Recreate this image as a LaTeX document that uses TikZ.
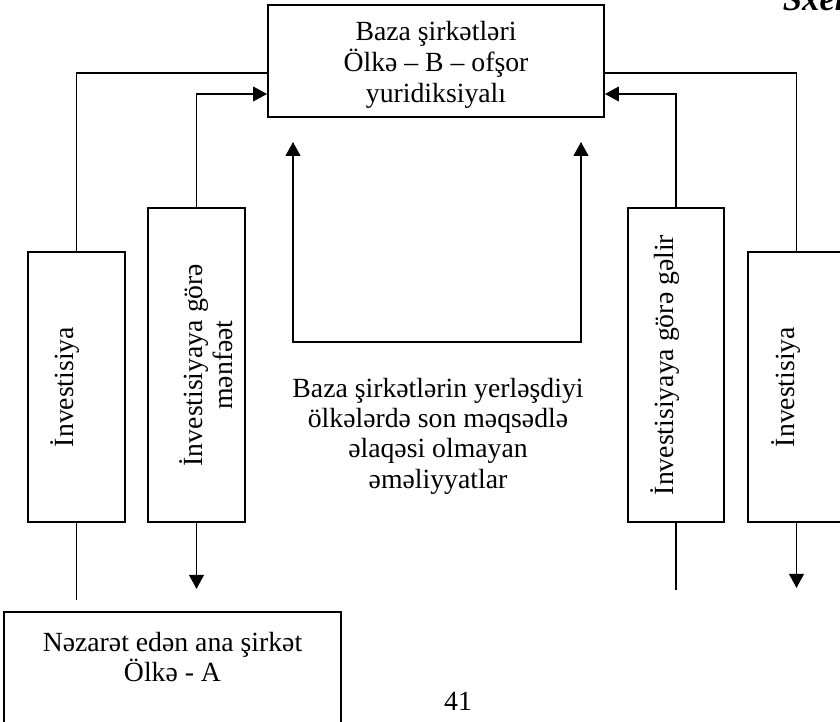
\documentclass[tikz,border=0pt]{standalone}
\usepackage{fontspec}
\setmainfont{Liberation Serif}
\usetikzlibrary{arrows.meta}

\tikzset{every picture/.style={line width=1.4pt}}
\tikzset{
	tri/.tip={Triangle[length=10.5pt,width=11pt]},
	box/.style={draw, rectangle, inner sep=0pt},
	txt/.style={inner sep=0.75pt, align=center, font=\fontsize{20.8}{22.8}\selectfont},
}

\begin{document}
\begin{tikzpicture}[x=0.75pt,y=0.75pt,yscale=-1,xscale=1]
	\useasboundingbox (0,0) rectangle (840,722);
	
	%Shape: Rectangle
	\node [box, minimum width=252pt, minimum height=84pt] (base) at (436,61) {};
	%Shape: Rectangle
	\node [box, minimum width=72.75pt, minimum height=202.5pt] (inv1) at (76.5,387) {};
	%Shape: Rectangle
	\node [box, minimum width=72.75pt, minimum height=235.5pt] (prof) at (196.5,365) {};
	%Shape: Rectangle
	\node [box, minimum width=72pt, minimum height=235.5pt] (inc) at (676,365) {};
	%Shape: Rectangle
	\node [box, minimum width=72.75pt, minimum height=202.5pt] (inv2) at (796.5,387) {};
	%Shape: Rectangle
	\node [box, minimum width=252.75pt, minimum height=111pt] (parent) at (172.5,686) {};
	
	%Straight Lines
	\draw (inv1.north) |- ([yshift=9pt]base.west);
	\draw [-tri] (prof.north) |- ([yshift=24.75pt]base.west);
	\draw (inv2.north) |- ([yshift=9pt]base.east);
	\draw [-tri] (inc.north) |- ([yshift=24.75pt]base.east);
	%Straight Lines
	\coordinate (loopL) at (293,342);
	\coordinate (loopR) at (581,342);
	\draw [tri-tri] ([yshift=18pt]base.south -| loopL) -- (loopL) -- (loopR) -- ([yshift=18pt]base.south -| loopR);
	%Straight Lines
	\draw (inv1.south) -- ++(0,77);
	\draw [-tri] (prof.south) -- ++(0,66);
	\draw (inc.south) -- ++(0,67);
	\draw [-tri] (inv2.south) -- ++(0,65);
	
	% Text Node
	\node [txt, font=\fontsize{20.8}{23.4}\selectfont] (base-t) at (436,65) {Baza şirkətləri\\Ölkə – B – ofşor\\yuridiksiyalı};
	% Text Node
	\node [txt, rotate=90] (inv1-t) at (65,387) {İnvestisiya};
	% Text Node
	\node [txt, rotate=90] (prof-t) at (206,365) {İnvestisiyaya görə\\mənfəət};
	% Text Node
	\node [txt, rotate=90] (inc-t) at (665,365) {İnvestisiyaya görə gəlir};
	% Text Node
	\node [txt, rotate=90] (inv2-t) at (786,387) {İnvestisiya};
	% Text Node
	\node [txt] (ops) at (438,436) {Baza şirkətlərin yerləşdiyi\\ölkələrdə son məqsədlə\\əlaqəsi olmayan\\əməliyyatlar};
	% Text Node
	\node [txt] (parent-t) at (172.5,657) {Nəzarət edən ana şirkət\\Ölkə - A};
	% Text Node
	\node [txt] (page) at (458,701) {41};
	% Text Node
	\node [anchor=base west, inner sep=0pt, font=\fontsize{26}{30}\selectfont\bfseries\itshape] (title) at (782,10) {Sxem};
	
\end{tikzpicture}
\end{document}
